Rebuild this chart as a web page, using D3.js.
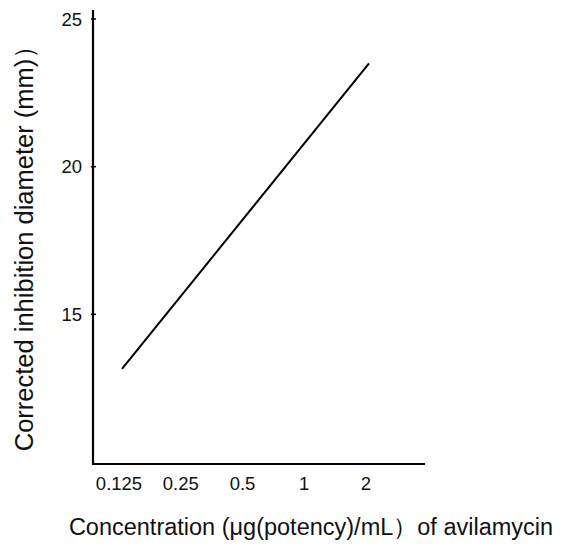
<!DOCTYPE html>
<html><head><meta charset="utf-8">
<script src="https://cdn.jsdelivr.net/npm/d3@7"></script>
<style>body{margin:0;background:#fff;} text{font-family:"Liberation Sans",Arial,sans-serif;fill:#111;}</style>
</head><body>
<svg id="c" width="574" height="552"></svg>
<script>
const concentrations = [0.125, 2];
const diameters = [13.15, 23.5];
const xTicks = [0.125, 0.25, 0.5, 1, 2];
const xTickLabels = ["0.125", "0.25", "0.5", "1", "2"];
const yTicks = [15, 20, 25];
const yTickLabels = ["15", "20", "25"];
const xTitle = "Concentration (μg(potency)/mL）of avilamycin";
const yTitle = "Corrected inhibition diameter (mm)）";

const svg = d3.select("#c");
const axisX0 = 93, axisX1 = 425, axisY0 = 10, axisY1 = 464;

const x = d3.scaleLog().base(2).domain([0.125, 2]).range([122, 369]);
const y = d3.scaleLinear().domain([10, 25]).range([462, 19]);

// y axis
svg.append("line").attr("x1", axisX0).attr("x2", axisX0).attr("y1", axisY0).attr("y2", axisY1)
  .attr("stroke", "#000").attr("stroke-width", 2.2);
// x axis
svg.append("line").attr("x1", axisX0 - 1).attr("x2", axisX1).attr("y1", axisY1).attr("y2", axisY1)
  .attr("stroke", "#000").attr("stroke-width", 2.2);

// y ticks
const yt = svg.append("g");
yTicks.forEach((v, i) => {
  yt.append("line").attr("x1", axisX0 - 2).attr("x2", axisX0 + 3).attr("y1", y(v)).attr("y2", y(v))
    .attr("stroke", "#000").attr("stroke-width", 1.5);
  yt.append("text").attr("x", 82).attr("y", y(v)).attr("dy", "0.36em")
    .attr("text-anchor", "end").attr("font-size", 18.5).text(yTickLabels[i]);
});

// x tick labels
xTicks.forEach((v, i) => {
  svg.append("text").attr("x", x(v) - 3).attr("y", 490).attr("text-anchor", "middle")
    .attr("font-size", 18.5).text(xTickLabels[i]);
});

// line
const line = d3.line().x(d => x(d[0])).y(d => y(d[1]));
svg.append("path").datum(concentrations.map((c, i) => [c, diameters[i]]))
  .attr("d", line).attr("fill", "none").attr("stroke", "#000").attr("stroke-width", 2);

// titles
svg.append("text").attr("x", 311).attr("y", 535).attr("text-anchor", "middle")
  .attr("font-size", 23.5).text(xTitle);
svg.append("text").attr("transform", "translate(33,242) rotate(-90)").attr("text-anchor", "middle")
  .attr("font-size", 25.5).text(yTitle);
</script>
</body></html>
